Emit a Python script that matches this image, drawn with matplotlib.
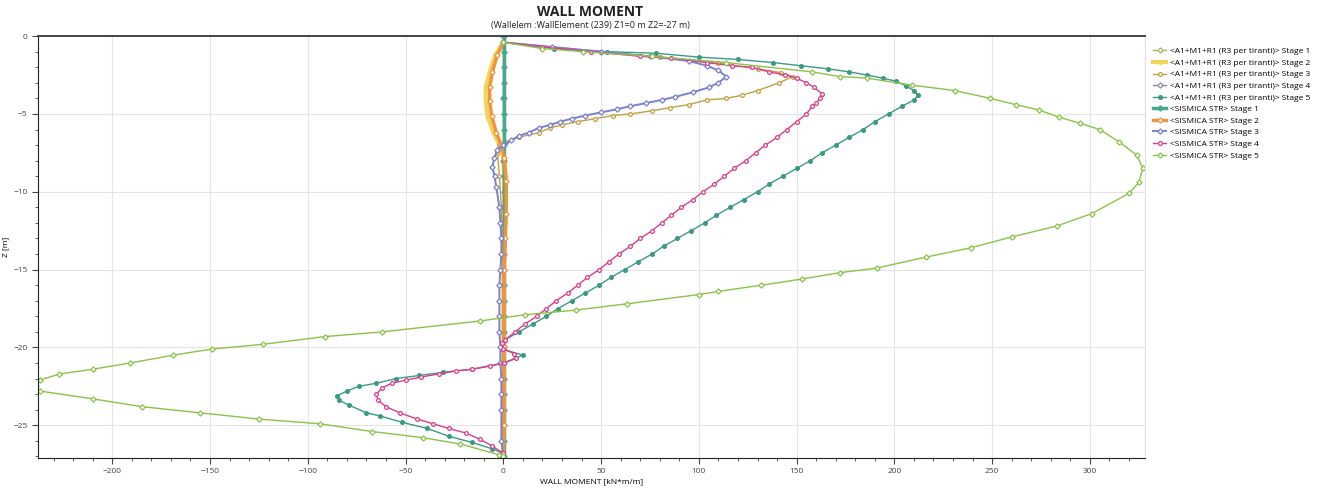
import matplotlib
matplotlib.use("Agg")
import matplotlib.pyplot as plt
from matplotlib.ticker import MultipleLocator

plt.rcParams["font.family"] = ["Open Sans", "DejaVu Sans"]

# ---- data (moment kN*m/m, depth z m) ----
a1_s1_m = [0, 0, 0, 0, 0, 0, 0, 0]
a1_s1_z = [0, -4, -8, -12, -16, -20, -24, -27]

a1_s2_m = [0, -4, -7, -9, -9, -8, -5, -2, 0, 0.5, 0.5, 0, 0]
a1_s2_z = [-0.4, -1.2, -2.3, -3.3, -4.2, -5.2, -6.2, -7.0, -7.8, -9.3, -11, -13, -27]

a1_s3_m = [0, 25, 50, 80, 110, 130, 142, 148, 141, 130, 122, 114, 104, 95, 85,
           76, 65, 56, 47, 38, 30, 24, 18, 8, 1.5, -2, -3, -2, -1, 0, 0, 0]
a1_s3_z = [-0.4, -0.7, -1.0, -1.35, -1.75, -2.1, -2.35, -2.6, -3.0, -3.5, -3.8,
           -4.0, -4.1, -4.4, -4.6, -4.8, -5.0, -5.1, -5.3, -5.5, -5.7, -5.9,
           -6.2, -6.5, -6.8, -7.0, -7.5, -9, -11, -15, -20, -27]

a1_s4_m = [0, 0, 0, 0, 0, 0, 0, 0]
a1_s4_z = [0, -4, -8, -12, -16, -20, -24, -27]

a1_s5_m = [0, 26, 53, 78, 100, 120, 138, 152, 166, 177, 186, 194, 201, 206, 210,
           212, 210, 204, 197, 190, 184, 177, 170, 163, 157, 150, 143, 136, 130,
           123, 116, 109, 103, 96, 89, 82, 76, 69, 62, 55, 49, 42, 35, 28, 22,
           15, 8, 1, -0.5, 10, 0, -16, -31, -43, -55, -65, -74, -80, -85, -84,
           -79, -70, -63, -52, -39, -28, -16, -6, 0, 0]
a1_s5_z = [-0.4, -0.8, -1.0, -1.1, -1.35, -1.5, -1.7, -1.9, -2.1, -2.3, -2.5,
           -2.7, -2.9, -3.2, -3.5, -3.8, -4.1, -4.5, -5.0, -5.5, -6.0, -6.5,
           -7.0, -7.5, -8.0, -8.5, -9.0, -9.5, -10.0, -10.5, -11.0, -11.5,
           -12.0, -12.5, -13.0, -13.5, -14.0, -14.5, -15.0, -15.5, -16.0,
           -16.5, -17.0, -17.5, -18.0, -18.5, -19.0, -19.5, -20.1, -20.5,
           -21.0, -21.4, -21.6, -21.8, -22.0, -22.3, -22.5, -22.8, -23.1,
           -23.4, -23.7, -24.2, -24.4, -24.8, -25.2, -25.7, -26.1, -26.5,
           -26.8, -27.0]

sis_s1_m = [0.5, 0.5, 0.5, 0.5, 0.5, 0.5, 0.5, 0.5, 0.5, 0.5, 0.5, 0.5, 0.5, 0.5,
            0.5, 0.5, 0.5, 0.5, 0.5, 0.5, 0.5, 0.5, 0.5, 0.5, 0.5, 0.5, 0.5, 0.5]
sis_s1_z = [0, -1, -2, -3, -4, -5, -6, -7, -8, -9, -10, -11, -12, -13, -14,
            -15, -16, -17, -18, -19, -20, -21, -22, -23, -24, -25, -26, -27]

sis_s2_m = [0, -3, -5.6, -7, -7, -6, -3.6, -1, 0.5, 1.5, 1.5, 1, 0.5, 0.5, 0.5, 0]
sis_s2_z = [-0.4, -1.2, -2.3, -3.3, -4.2, -5.1, -6.2, -7.0, -7.8, -9.3, -11.4,
            -13, -15, -20, -25, -27]

sis_s3_m = [0, 25, 50, 75, 95, 104, 110, 114, 110, 105, 97, 88, 81, 73, 65, 58,
            50, 42, 35, 29, 24, 18, 13, 8, 4, 0, -3, -4.6, -5.6, -4.5, -3.6, -2,
            -1.5, -1, -1, -1.5, -2, -2, -2, -2, -1.5, -1.5, -1, -1, -1, -1, 0]
sis_s3_z = [-0.4, -0.7, -1.0, -1.3, -1.6, -1.9, -2.2, -2.6, -3.0, -3.3, -3.6,
            -3.9, -4.1, -4.3, -4.5, -4.7, -4.9, -5.1, -5.3, -5.5, -5.7, -5.9,
            -6.2, -6.4, -6.7, -7.0, -7.3, -7.8, -8.4, -9.0, -9.7, -11.0, -12,
            -13, -14, -15, -16, -17, -18, -19, -20, -21, -22, -23, -24, -26, -27]

sis_s4_m = [0, 20, 45, 70, 86, 104, 117, 127, 136, 144, 150, 155, 159, 163, 162,
            160, 158, 155, 150, 145, 140, 134, 129, 124, 118, 113, 108, 102, 97,
            91, 86, 81, 76, 70, 65, 59, 54, 49, 43, 38, 33, 27, 22, 17, 11, 6, 1,
            -0.5, 0, 5.6, 6.5, 0.5, -7, -16, -24, -33, -42, -50, -57, -62, -65,
            -64, -60, -53, -44, -36, -28, -19, -12, -6, 0]
sis_s4_z = [-0.4, -0.7, -1.0, -1.3, -1.4, -1.7, -1.9, -2.0, -2.3, -2.5, -2.7,
            -3.0, -3.3, -3.7, -4.0, -4.3, -4.5, -5.0, -5.5, -6.0, -6.5, -7.0,
            -7.5, -8.0, -8.5, -9.0, -9.5, -10.0, -10.5, -11.0, -11.5, -12.0,
            -12.5, -13.0, -13.5, -14.0, -14.5, -15.0, -15.5, -16.0, -16.5,
            -17.0, -17.5, -18.0, -18.5, -19.0, -19.5, -19.7, -20.1, -20.4,
            -20.7, -21.0, -21.2, -21.4, -21.5, -21.7, -21.9, -22.1, -22.3,
            -22.6, -23.0, -23.4, -23.8, -24.2, -24.6, -24.9, -25.2, -25.5,
            -25.9, -26.3, -26.8]

sis_s5_m = [0, 20, 41, 76, 114, 158, 172, 186, 209, 231, 249, 262, 274, 284, 295,
            305, 315, 324, 327, 325, 320, 301, 283, 260, 239, 216, 191, 172, 153,
            132, 110, 100, 63, 37, 11, -12, -62, -91, -123, -149, -169, -191,
            -210, -227, -237, -239, -237, -210, -185, -155, -125, -94, -67, -41,
            -22, -2, 0]
sis_s5_z = [-0.4, -0.8, -1.0, -1.3, -1.7, -2.3, -2.6, -2.7, -3.15, -3.5, -4.0,
            -4.4, -4.75, -5.2, -5.6, -6.0, -6.8, -7.65, -8.5, -9.4, -10.1, -11.4,
            -12.2, -12.9, -13.6, -14.2, -14.9, -15.2, -15.6, -16.0, -16.4, -16.6,
            -17.2, -17.6, -17.9, -18.3, -19.0, -19.3, -19.8, -20.1, -20.5, -21.0,
            -21.4, -21.7, -22.1, -22.45, -22.8, -23.3, -23.8, -24.2, -24.6,
            -24.9, -25.4, -25.8, -26.2, -26.9, -27.0]

series = [
    ("<A1+M1+R1 (R3 per tiranti)> Stage 1", a1_s1_m, a1_s1_z, "#9cbc5c", "D", "white", 1.0),
    ("<A1+M1+R1 (R3 per tiranti)> Stage 2", a1_s2_m, a1_s2_z, "#f2d45a", "o", "#f2d45a", 3.0),
    ("<A1+M1+R1 (R3 per tiranti)> Stage 3", a1_s3_m, a1_s3_z, "#c0a044", "o", "white", 1.0),
    ("<A1+M1+R1 (R3 per tiranti)> Stage 4", a1_s4_m, a1_s4_z, "#8c8c9c", "D", "white", 1.0),
    ("<A1+M1+R1 (R3 per tiranti)> Stage 5", a1_s5_m, a1_s5_z, "#3c9a84", "o", "#3c9a84", 1.0),
    ("<SISMICA STR> Stage 1", sis_s1_m, sis_s1_z, "#46aa8e", "D", "#46aa8e", 2.5),
    ("<SISMICA STR> Stage 2", sis_s2_m, sis_s2_z, "#f0943c", "D", "white", 2.5),
    ("<SISMICA STR> Stage 3", sis_s3_m, sis_s3_z, "#7c80d0", "D", "white", 1.4),
    ("<SISMICA STR> Stage 4", sis_s4_m, sis_s4_z, "#dc3c8c", "o", "white", 1.0),
    ("<SISMICA STR> Stage 5", sis_s5_m, sis_s5_z, "#8cc24a", "D", "white", 1.0),
]

fig = plt.figure(figsize=(13.27, 4.94), dpi=100)
ax = fig.add_axes([0.0286, 0.0729, 0.834, 0.854])

for label, m, z, color, marker, mfc, lw in series:
    ax.plot(m, z, color=color, lw=lw, marker=marker, markersize=2.7,
            markerfacecolor=mfc, markeredgecolor=color, markeredgewidth=0.9,
            label=label)

ax.set_xlim(-238, 328)
ax.set_ylim(-27.1, 0)
ax.xaxis.set_major_locator(MultipleLocator(50))
ax.xaxis.set_minor_locator(MultipleLocator(10))
ax.yaxis.set_major_locator(MultipleLocator(5))
ax.yaxis.set_minor_locator(MultipleLocator(1))
ax.tick_params(which="both", direction="out", labelsize=6, colors="#444444")
ax.tick_params(which="major", length=4)
ax.tick_params(which="minor", length=2.5)
ax.grid(True, which="major", color="#e4e4e4", lw=0.8)
ax.set_axisbelow(True)

for s in ["left", "bottom"]:
    ax.spines[s].set_color("#222222")
ax.spines["top"].set_color("#444444")
ax.spines["top"].set_linewidth(1.4)
ax.spines["right"].set_color("#dddddd")

ax.set_xlabel("WALL MOMENT [kN*m/m]", fontsize=6, labelpad=2)
ax.set_ylabel("Z [m]", fontsize=6, labelpad=3)

fig.text(0.445, 0.975, "WALL MOMENT", ha="center", va="center",
         fontsize=10, fontweight="bold", color="#222222")
fig.text(0.445, 0.948, "(Wallelem :WallElement (239) Z1=0 m Z2=-27 m)",
         ha="center", va="center", fontsize=6.5, color="#222222")

ax.legend(loc="upper left", bbox_to_anchor=(1.003, 0.985), frameon=False,
          fontsize=6, handlelength=1.6, handletextpad=0.5, labelspacing=0.45,
          borderaxespad=0.2)

fig.savefig("out.png", dpi=100)
